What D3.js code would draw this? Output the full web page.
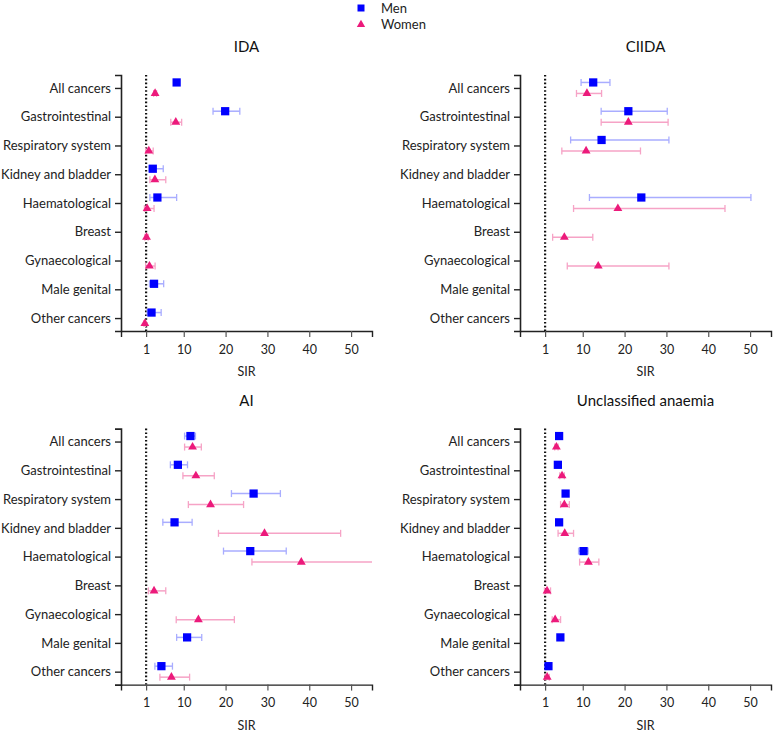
<!DOCTYPE html>
<html>
<head>
<meta charset="utf-8">
<script src="https://cdn.jsdelivr.net/npm/d3@7"></script>
<style>
  html, body { margin: 0; padding: 0; background: #fff; }
  svg { display: block; font-family: Lato, "Open Sans", sans-serif; }
</style>
</head>
<body>
<svg id="chart" width="777" height="732"></svg>
<script>
// ---------- data ----------
const categories = ["All cancers", "Gastrointestinal", "Respiratory system", "Kidney and bladder",
  "Haematological", "Breast", "Gynaecological", "Male genital", "Other cancers"];
const panelTitles = ["IDA", "CIIDA", "AI", "Unclassified anaemia"];
const xTicks = [1, 10, 20, 30, 40, 50];
const seriesNames = ["Men", "Women"];

// IDA
const idaMen      = [8.3, 19.9, null, 2.6, 3.7, null, null, 2.9, 2.3];
const idaMenLo    = [7.8, 17.0, null, 1.7, 1.9, null, null, 1.8, 1.25];
const idaMenHi    = [8.8, 23.4, null, 5.1, 8.3, null, null, 5.2, 4.6];
const idaWomen    = [3.15, 8.1, 1.65, 3.1, 1.25, 1.1, 1.8, null, 0.7];
const idaWomenLo  = [2.8, 6.9, 0.9, 1.9, 0.6, 0.7, 0.9, null, 0.5];
const idaWomenHi  = [3.5, 9.5, 2.7, 5.7, 2.9, 1.5, 3.15, null, 0.9];
// CIIDA
const ciidaMen     = [12.5, 20.9, 14.5, null, 24.0, null, null, null, null];
const ciidaMenLo   = [9.6, 14.4, 7.1, null, 11.6, null, null, null, null];
const ciidaMenHi   = [16.5, 30.2, 30.6, null, 50.2, null, null, null, null];
const ciidaWomen   = [11.0, 20.9, 10.8, null, 18.4, 5.6, 13.7, null, null];
const ciidaWomenLo = [8.5, 14.4, 5.0, null, 7.8, 2.8, 6.3, null, null];
const ciidaWomenHi = [14.5, 30.4, 23.8, null, 44.0, 12.4, 30.6, null, null];
// AI
const aiMen      = [11.6, 8.6, 26.7, 7.8, 25.9, null, null, 10.8, 4.66];
const aiMenLo    = [10.2, 6.8, 21.4, 5.0, 19.5, null, null, 8.3, 3.1];
const aiMenHi    = [12.8, 10.9, 33.1, 12.0, 34.5, null, null, 14.3, 7.3];
const aiWomen    = [12.1, 12.9, 16.4, 29.3, 38.1, 2.9, 13.5, null, 7.05];
const aiWomenLo  = [10.2, 9.8, 11.1, 18.3, 26.3, 1.55, 8.2, null, 4.3];
const aiWomenHi  = [14.2, 17.3, 24.3, 47.5, 56, 5.7, 22.1, null, 11.4];
// Unclassified anaemia
const unMen      = [4.35, 4.05, 5.9, 4.35, 10.2, null, null, 4.65, 1.8];
const unMenLo    = [3.9, 3.6, 5.3, 3.8, 9.0, null, null, 4.1, 1.2];
const unMenHi    = [4.8, 4.5, 6.5, 4.9, 11.3, null, null, 5.2, 2.4];
const unWomen    = [3.7, 5.05, 5.6, 5.7, 11.35, 1.47, 3.4, null, 1.5];
const unWomenLo  = [3.3, 4.5, 4.7, 4.1, 9.25, 0.85, 2.7, null, 1.0];
const unWomenHi  = [4.1, 5.6, 6.8, 7.8, 13.85, 2.3, 4.7, null, 2.0];

const panelData = [
  {men: idaMen, menLo: idaMenLo, menHi: idaMenHi, women: idaWomen, womenLo: idaWomenLo, womenHi: idaWomenHi},
  {men: ciidaMen, menLo: ciidaMenLo, menHi: ciidaMenHi, women: ciidaWomen, womenLo: ciidaWomenLo, womenHi: ciidaWomenHi},
  {men: aiMen, menLo: aiMenLo, menHi: aiMenHi, women: aiWomen, womenLo: aiWomenLo, womenHi: aiWomenHi},
  {men: unMen, menLo: unMenLo, menHi: unMenHi, women: unWomen, womenLo: unWomenLo, womenHi: unWomenHi}
];

// ---------- style ----------
const MEN_COLOR = "#0000ff", MEN_CI = "#a9adff";
const WOMEN_COLOR = "#ec1a7b", WOMEN_CI = "#f6a3c6";
const AXIS_COLOR = "#222";

const svg = d3.select("#chart");

// legend
const legend = svg.append("g");
legend.append("path")
  .attr("d", d3.symbol(d3.symbolSquare, 49)())
  .attr("transform", "translate(361,8)").attr("fill", MEN_COLOR);
legend.append("path")
  .attr("d", d3.symbol(d3.symbolTriangle, 30)())
  .attr("transform", "translate(361,24.5)").attr("fill", WOMEN_COLOR);
legend.selectAll("text").data(seriesNames).join("text")
  .attr("x", 381).attr("y", (d, i) => 12.5 + i * 16.5)
  .attr("font-size", 13).attr("fill", "#222").text(d => d);

// panels
const colX = [[121, 372], [520, 771]];
const rowY = [[75, 331], [428.6, 684.6]];

panelTitles.forEach((title, pi) => {
  const col = pi % 2, row = Math.floor(pi / 2);
  const xr = colX[col], yr = rowY[row];
  const x = d3.scaleLinear().domain([-5, 55]).range(xr).clamp(true);
  const y = d3.scalePoint().domain(categories).range(yr).padding(0.45);
  const g = svg.append("g");
  const d = panelData[pi];

  // title
  g.append("text").attr("x", (xr[0] + xr[1]) / 2).attr("y", yr[0] - 23)
    .attr("text-anchor", "middle").attr("font-size", 15).attr("fill", "#111").text(title);

  // reference line at SIR = 1
  g.append("line")
    .attr("x1", x(1)).attr("x2", x(1)).attr("y1", yr[0]).attr("y2", yr[1])
    .attr("stroke", "#111").attr("stroke-width", 2.2)
    .attr("stroke-dasharray", "1.6,2.2");

  // x axis
  const xa = g.append("g").attr("transform", `translate(0,${yr[1]})`)
    .call(d3.axisBottom(x).tickValues(xTicks).tickSizeOuter(0).tickSize(6).tickPadding(8));
  xa.select(".domain").attr("stroke", AXIS_COLOR).attr("stroke-width", 1.4);
  xa.selectAll(".tick line").attr("stroke", "#555").attr("stroke-width", 1.2);
  xa.selectAll(".tick text").attr("font-size", 12.5).attr("fill", "#222").attr("font-family", "Lato, sans-serif");
  g.append("text").attr("x", (xr[0] + xr[1]) / 2).attr("y", yr[1] + 45)
    .attr("text-anchor", "middle").attr("font-size", 12.5).attr("fill", "#222").text("SIR");

  // y axis
  const ya = g.append("g").attr("transform", `translate(${xr[0]},0)`)
    .call(d3.axisLeft(y).tickSizeOuter(0).tickSize(6).tickPadding(4));
  ya.select(".domain").attr("stroke", AXIS_COLOR).attr("stroke-width", 1.6);
  ya.selectAll(".tick line").attr("stroke", AXIS_COLOR).attr("stroke-width", 1.4);
  ya.selectAll(".tick text").attr("font-size", 13).attr("fill", "#222").attr("font-family", "Lato, sans-serif");

  const series = [
    {vals: d.men, lo: d.menLo, hi: d.menHi, dy: -5.5, color: MEN_COLOR, ci: MEN_CI, sym: d3.symbolSquare, size: 68},
    {vals: d.women, lo: d.womenLo, hi: d.womenHi, dy: 5.5, color: WOMEN_COLOR, ci: WOMEN_CI, sym: d3.symbolTriangle, size: 34}
  ];
  series.forEach(s => {
    const pts = categories.map((c, i) => ({c, v: s.vals[i], lo: s.lo[i], hi: s.hi[i]}))
      .filter(p => p.v != null);
    const sg = g.append("g");
    pts.forEach(p => {
      const cy = y(p.c) + s.dy;
      sg.append("line").attr("x1", x(p.lo)).attr("x2", x(p.hi)).attr("y1", cy).attr("y2", cy)
        .attr("stroke", s.ci).attr("stroke-width", 1.5);
      [p.lo, p.hi].forEach(e => {
        if (e > 55) return;
        sg.append("line").attr("x1", x(e)).attr("x2", x(e)).attr("y1", cy - 3.5).attr("y2", cy + 3.5)
          .attr("stroke", s.ci).attr("stroke-width", 1.3);
      });
      sg.append("path").attr("d", d3.symbol(s.sym, s.size)())
        .attr("transform", `translate(${x(p.v)},${cy})`).attr("fill", s.color);
    });
  });
});
</script>
</body>
</html>
